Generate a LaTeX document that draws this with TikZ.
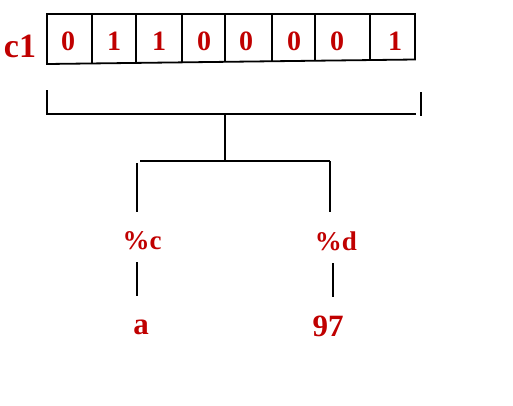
\documentclass[tikz,border=0pt]{standalone}
\usepackage{fontspec}
\setmainfont{Liberation Serif}
\definecolor{dred}{HTML}{C00000}
\begin{document}
\begin{tikzpicture}[x=1pt,y=-1pt,
  bit/.style={text=dred,font=\bfseries\fontsize{28}{28}\selectfont,inner sep=0pt},
  lbl/.style={text=dred,font=\bfseries\fontsize{27}{27}\selectfont,inner sep=0pt},
  val/.style={text=dred,font=\bfseries\fontsize{31}{31}\selectfont,inner sep=0pt},
  ln/.style={line width=1.8pt,black}]
\useasboundingbox (0,0) rectangle (513,405);
% register box
\draw[ln] (47,14) -- (415,14) -- (415,59.5) -- (47,64) -- cycle;
\foreach \x/\y in {92/62.5,136/62,182/61.7,225/61.2,272/61,315/60.5,370/60}
  \draw[line width=1.6pt] (\x,14) -- (\x,\y);
\node[text=dred,font=\bfseries\fontsize{34}{34}\selectfont,inner sep=0pt] (c1) at (20,46) {c1};
\node[bit] (b0) at (68,41) {0};
\node[bit] (b1) at (114,41) {1};
\node[bit] (b2) at (159,41) {1};
\node[bit] (b3) at (204,41) {0};
\node[bit] (b4) at (246,41) {0};
\node[bit] (b5) at (294,41) {0};
\node[bit] (b6) at (337,41) {0};
\node[bit] (b7) at (395,41) {1};
% bracket
\coordinate (bl) at (47,90);
\coordinate (br) at (421,92);
\draw[ln] (bl) -- (47,114) -- (416,114);
\draw[line width=2.6pt] (br) -- (421,116);
\coordinate (stem) at (225,114);
\draw[ln] (stem) -- (225,161);
\draw[ln] (140,161) -- (330,161);
% branches
\node[lbl] (pc) at (142,241) {\%c};
\node[lbl] (pd) at (336,241) {\%d};
\node[val] (a) at (141,327) {a};
\node[val] (n97) at (328,326) {97};
\draw[ln] (137,163) -- (137,212);
\draw[ln] (330,161) -- (330,212);
\draw[ln] (137,262) -- (137,296);
\draw[ln] (333,263) -- (333,297);
\end{tikzpicture}
\end{document}
